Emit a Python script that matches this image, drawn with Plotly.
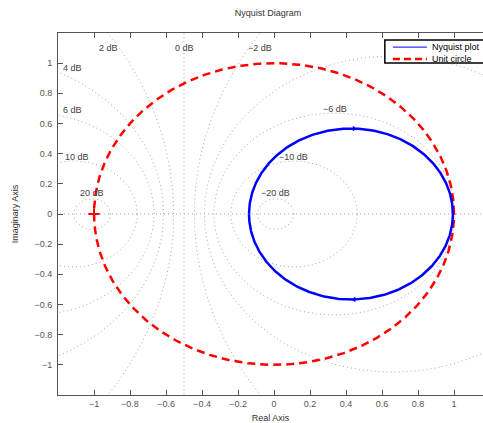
import numpy as np
import plotly.graph_objects as go

# ---- data ----
# open-loop transfer function G(s) = (b1*s + b0) / (s + a0)
num = [-0.139, 0.994]
den = [1.0, 1.0]
arrow_w = [-0.97, 0.97]          # frequencies where direction arrows sit
critical_point = [-1.0, 0.0]

# constant-magnitude (M-circle) grid levels, dB
grid_db = [20, 10, 6, 4, 2, 0, -2, -4, -6, -10, -20]
# grid labels shown (the -4 dB label is hidden by the legend)
label_text = ["2 dB", "0 dB", "\u22122 dB", "4 dB", "6 dB", "10 dB", "20 dB",
              "\u22126 dB", "\u221210 dB", "\u221220 dB"]
label_x = [-0.922, -0.50, -0.078, -1.117, -1.117, -1.095, -1.01, 0.339, 0.111, 0.011]
label_y = [1.10, 1.10, 1.10, 0.967, 0.689, 0.378, 0.139, 0.695, 0.378, 0.139]

legend_names = ["Nyquist plot", "Unit circle"]

tick_vals = [-1, -0.8, -0.6, -0.4, -0.2, 0, 0.2, 0.4, 0.6, 0.8, 1]
tick_text = ["\u22121", "\u22120.8", "\u22120.6", "\u22120.4", "\u22120.2", "0",
             "0.2", "0.4", "0.6", "0.8", "1"]


def freq_resp(w):
    s = 1j * np.asarray(w)
    return (num[0] * s + num[1]) / (den[0] * s + den[1])


fig = go.Figure()

GRID = dict(color="#a8a8a8", width=1, dash="1px,3px")

# real axis
fig.add_trace(go.Scatter(x=[-1.3, 1.3], y=[0, 0], mode="lines", line=GRID,
                         showlegend=False, hoverinfo="skip"))

t = np.linspace(0, 2 * np.pi, 721)
for db in grid_db:
    M = 10 ** (db / 20)
    if db == 0:
        xs, ys = [-0.5, -0.5], [-1.3, 1.3]
    else:
        c = -M ** 2 / (M ** 2 - 1)
        r = abs(M / (M ** 2 - 1))
        xs, ys = c + r * np.cos(t), r * np.sin(t)
    fig.add_trace(go.Scatter(x=xs, y=ys, mode="lines", line=GRID,
                             showlegend=False, hoverinfo="skip"))

RED = dict(color="#ff0000", width=2.5, dash="8px,5px")
BLUE = dict(color="#0000ff", width=2.5)

# unit circle
fig.add_trace(go.Scatter(x=np.cos(t), y=np.sin(t), mode="lines", line=RED,
                         name=legend_names[1], showlegend=False, hoverinfo="skip"))

# Nyquist curve
w = np.logspace(-3, 3, 800)
wall = np.concatenate([-w[::-1], w])
G = freq_resp(wall)
fig.add_trace(go.Scatter(x=G.real, y=G.imag, mode="lines", line=BLUE,
                         name=legend_names[0], showlegend=False, hoverinfo="skip"))

# arrows
Ga = freq_resp(arrow_w)
fig.add_trace(go.Scatter(x=Ga.real, y=Ga.imag, mode="markers",
                         marker=dict(symbol=["triangle-right", "triangle-left"],
                                     size=5, color="#0000ff"),
                         showlegend=False, hoverinfo="skip"))

# critical point
fig.add_trace(go.Scatter(x=[critical_point[0]], y=[critical_point[1]], mode="markers",
                         marker=dict(symbol="cross-thin", size=8,
                                     line=dict(color="#ff0000", width=2)),
                         showlegend=False, hoverinfo="skip"))

for txt, lx, ly in zip(label_text, label_x, label_y):
    fig.add_annotation(x=lx, y=ly, text=txt, showarrow=False,
                       font=dict(size=9, color="#404040"),
                       xanchor="center", yanchor="middle")

# compact legend box (MATLAB style)
fig.add_shape(type="rect", xref="paper", yref="paper", x0=0.769, x1=1.06,
              y0=0.917, y1=0.9807, line=dict(color="black", width=1.5),
              fillcolor="white", layer="above")
leg_y = [0.961, 0.928]
leg_lines = [dict(color="#0000ff", width=1), dict(color="#ff0000", width=2.5, dash="7px,4px")]
for name, ly, ls in zip(legend_names, leg_y, leg_lines):
    fig.add_shape(type="line", xref="paper", yref="paper", x0=0.788, x1=0.868,
                  y0=ly, y1=ly, line=ls, layer="above")
    fig.add_annotation(xref="paper", yref="paper", x=0.875, y=ly, text=name,
                       showarrow=False, xanchor="left", yanchor="middle",
                       font=dict(size=9, color="black"))

AX = dict(showgrid=False, zeroline=False, ticks="inside", ticklen=5,
          tickcolor="#555555", linecolor="#555555", linewidth=1, showline=True,
          tickfont=dict(size=9, color="#555555"), tickvals=tick_vals,
          ticktext=tick_text)

fig.update_layout(
    width=483, height=423,
    margin=dict(l=58, r=0, t=33, b=28),
    paper_bgcolor="white", plot_bgcolor="white",
    font=dict(family="Liberation Sans, Arial, sans-serif", size=9, color="#333333"),
    title=dict(text="Nyquist Diagram", xref="container", x=268 / 483, xanchor="center",
               y=1 - 13 / 423, yanchor="middle", font=dict(size=9, color="#333333")),
    xaxis=dict(range=[-1.2, 1.161], mirror="ticks",
               title=dict(text="Real Axis", font=dict(size=9, color="#333333"), standoff=6),
               **AX),
    yaxis=dict(range=[-1.2, 1.2], mirror=False, ticklabelstandoff=3,
               title=dict(text="Imaginary Axis", font=dict(size=9, color="#333333"), standoff=14),
               **AX),
    showlegend=False,
)

# remove the default 8px page margin so the figure sits at the window origin
fig.write_html("out.html",
               config={"displayModeBar": False},
               post_script="document.body.style.margin='0';"
                           "document.body.style.overflow='hidden';")
